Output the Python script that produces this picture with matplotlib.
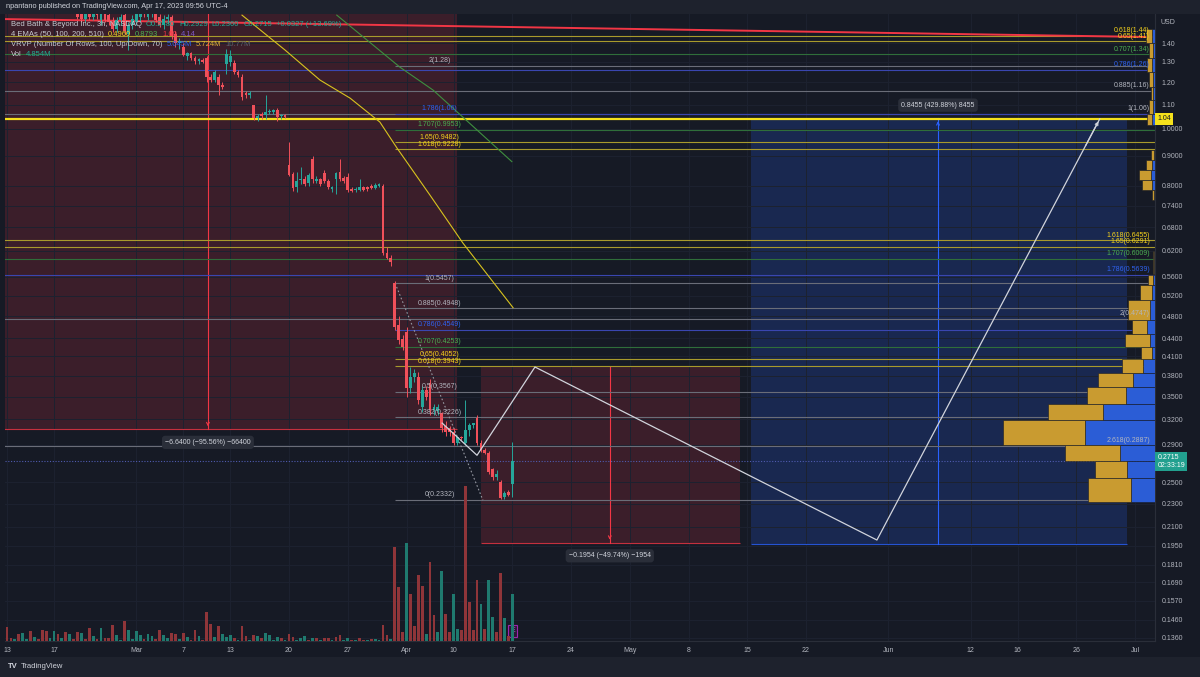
import numpy as np
import matplotlib.pyplot as plt
from matplotlib.transforms import blended_transform_factory

plt.rcParams['font.family'] = ['Liberation Sans', 'DejaVu Sans']

W, H = 1200, 677
FS = 5.0
BG = '#161a25'
PANEL = '#1e222d'
TXT = '#b2b5be'
RED = '#f23645'
TEAL = '#22ab94'
YEL_LINE = '#a89a2c'
YEL_TXT = '#f5d21c'
GRN_LINE = '#2f6e3a'
GRN_TXT = '#4caf50'
BLU_LINE = '#3a46b0'
BLU_TXT = '#2f62f0'
GRY_LINE = '#6a6d78'

# ---- axes scales ----
price_ticks = [1.40, 1.30, 1.20, 1.10, 1.0, 0.90, 0.80, 0.74, 0.68, 0.62, 0.56, 0.52,
               0.48, 0.44, 0.41, 0.38, 0.35, 0.32, 0.29, 0.25, 0.23, 0.21, 0.195,
               0.181, 0.169, 0.157, 0.146, 0.136]
price_tick_labels = ['1.40', '1.30', '1.20', '1.10', '1.0000', '0.9000', '0.8000', '0.7400',
                     '0.6800', '0.6200', '0.5600', '0.5200', '0.4800', '0.4400', '0.4100',
                     '0.3800', '0.3500', '0.3200', '0.2900', '0.2500', '0.2300', '0.2100',
                     '0.1950', '0.1810', '0.1690', '0.1570', '0.1460', '0.1360']
# trading-day index (from Feb 13) of each date label, 3 bars per day (3h chart)
date_tick_days = [0, 4, 11, 15, 19, 24, 29, 34, 38, 43, 48, 53, 58, 63, 68, 75, 82, 86, 91, 96]
date_tick_labels = ['13', '17', 'Mar', '7', '13', '20', '27', 'Apr', '10', '17', '24', 'May',
                    '8', '15', '22', 'Jun', '12', '16', '26', 'Jul']
bars_per_day = 3
x_range = (-0.51, 293.1)
y_range = (0.1342, 1.569)

# ---- candles (bar index starts at 18) ----
candle_start = 18
c_open = [1.60, 1.58, 1.54, 1.58, 1.55, 1.59, 1.53, 1.58, 1.56, 1.52, 1.48, 1.53, 1.56, 1.45,
          1.50, 1.52, 1.55, 1.59, 1.55, 1.57, 1.60, 1.55, 1.50, 1.54, 1.55, 1.45, 1.40, 1.378,
          1.33, 1.345, 1.32, 1.305, 1.31, 1.32, 1.225, 1.21, 1.225, 1.19, 1.29, 1.30, 1.295,
          1.25, 1.225, 1.15, 1.14, 1.098, 1.044, 1.06, 1.056, 1.068, 1.07, 1.077, 1.05, 1.056,
          0.868, 0.837, 0.795, 0.818, 0.822, 0.808, 0.888, 0.815, 0.82, 0.84, 0.815, 0.79,
          0.82, 0.845, 0.825, 0.827, 0.788, 0.786, 0.787, 0.795, 0.792, 0.80, 0.793, 0.80,
          0.80, 0.614, 0.603,
          0.546, 0.463, 0.438, 0.451, 0.362, 0.378, 0.378, 0.336, 0.359, 0.369, 0.332, 0.331,
          0.328, 0.312, 0.31, 0.305, 0.292, 0.299, 0.292, 0.307, 0.313, 0.322, 0.292, 0.284,
          0.281, 0.263, 0.255, 0.25, 0.236, 0.241, 0.248]
c_high = [1.65, 1.62, 1.60, 1.60, 1.62, 1.61, 1.60, 1.60, 1.58, 1.55, 1.55, 1.57, 1.58, 1.52,
          1.56, 1.60, 1.62, 1.61, 1.62, 1.63, 1.62, 1.57, 1.56, 1.57, 1.56, 1.47, 1.43, 1.40,
          1.35, 1.35, 1.33, 1.32, 1.32, 1.33, 1.24, 1.26, 1.24, 1.20, 1.37, 1.36, 1.31,
          1.26, 1.24, 1.16, 1.16, 1.10, 1.06, 1.07, 1.14, 1.08, 1.08, 1.085, 1.06, 1.06,
          0.95, 0.845, 0.845, 0.86, 0.83, 0.84, 0.90, 0.83, 0.825, 0.85, 0.82, 0.80,
          0.845, 0.89, 0.83, 0.84, 0.795, 0.795, 0.82, 0.80, 0.80, 0.805, 0.81, 0.81,
          0.805, 0.63, 0.61,
          0.55, 0.48, 0.445, 0.46, 0.393, 0.39, 0.385, 0.365, 0.365, 0.375, 0.34, 0.34,
          0.33, 0.318, 0.312, 0.31, 0.30, 0.30, 0.345, 0.315, 0.316, 0.325, 0.295, 0.286,
          0.283, 0.265, 0.262, 0.252, 0.242, 0.243, 0.2929]
c_low = [1.54, 1.52, 1.52, 1.53, 1.53, 1.54, 1.50, 1.52, 1.50, 1.46, 1.46, 1.50, 1.45, 1.36,
         1.48, 1.50, 1.52, 1.55, 1.53, 1.55, 1.52, 1.49, 1.48, 1.51, 1.42, 1.38, 1.37, 1.33,
         1.31, 1.31, 1.29, 1.29, 1.295, 1.20, 1.20, 1.20, 1.14, 1.17, 1.24, 1.28, 1.24,
         1.225, 1.12, 1.13, 1.13, 1.035, 1.03, 1.04, 1.04, 1.06, 1.06, 1.03, 1.04, 1.045,
         0.83, 0.785, 0.78, 0.805, 0.80, 0.80, 0.81, 0.81, 0.80, 0.81, 0.79, 0.78,
         0.775, 0.815, 0.81, 0.78, 0.78, 0.78, 0.783, 0.785, 0.785, 0.79, 0.79, 0.795,
         0.61, 0.60, 0.585,
         0.455, 0.43, 0.42, 0.35, 0.355, 0.37, 0.34, 0.33, 0.345, 0.325, 0.325, 0.325,
         0.305, 0.30, 0.30, 0.29, 0.29, 0.295, 0.29, 0.30, 0.31, 0.29, 0.282, 0.279,
         0.258, 0.252, 0.252, 0.234, 0.234, 0.237, 0.236]
c_close = [1.55, 1.54, 1.58, 1.55, 1.59, 1.56, 1.58, 1.53, 1.52, 1.48, 1.53, 1.55, 1.47, 1.50,
           1.54, 1.58, 1.59, 1.57, 1.60, 1.60, 1.53, 1.50, 1.54, 1.55, 1.44, 1.40, 1.41, 1.336,
           1.345, 1.32, 1.305, 1.31, 1.30, 1.225, 1.21, 1.25, 1.187, 1.18, 1.34, 1.33, 1.25,
           1.235, 1.133, 1.14, 1.15, 1.044, 1.05, 1.052, 1.068, 1.072, 1.072, 1.048, 1.055, 1.048,
           0.834, 0.792, 0.815, 0.822, 0.805, 0.834, 0.82, 0.822, 0.806, 0.815, 0.795, 0.795,
           0.84, 0.82, 0.815, 0.787, 0.785, 0.79, 0.795, 0.788, 0.79, 0.793, 0.803, 0.803,
           0.614, 0.603, 0.593,
           0.460, 0.437, 0.425, 0.362, 0.378, 0.384, 0.345, 0.359, 0.349, 0.332, 0.336, 0.336,
           0.31, 0.305, 0.304, 0.292, 0.299, 0.297, 0.307, 0.313, 0.315, 0.292, 0.284, 0.281,
           0.26, 0.255, 0.258, 0.235, 0.24, 0.238, 0.2715]

# ---- volume (millions), bar index 0.. ----
volume = [1.44, 0.31, 0.21, 0.72, 0.82, 0.21, 1.03, 0.41, 0.21, 1.13, 1.03, 0.31, 1.03, 0.72,
          0.31, 0.93, 0.72, 0.21, 0.93, 0.82, 0.21, 1.34, 0.52, 0.21, 1.34, 0.31, 0.31, 1.65,
          0.62, 0.10, 2.06, 1.13, 0.21, 1.03, 0.62, 0.21, 0.72, 0.52, 0.21, 1.13, 0.62, 0.31,
          0.82, 0.72, 0.21, 0.82, 0.41, 0.10, 1.13, 0.52, 0.10, 2.99, 1.75, 0.41, 1.55, 0.72,
          0.41, 0.62, 0.31, 0.10, 1.55, 0.52, 0.10, 0.62, 0.52, 0.31, 0.82, 0.62, 0.10, 0.41,
          0.31, 0.10, 0.72, 0.41, 0.10, 0.31, 0.52, 0.10, 0.31, 0.31, 0.10, 0.31, 0.31, 0.10,
          0.41, 0.62, 0.10, 0.31, 0.10, 0.10, 0.31, 0.10, 0.10, 0.21, 0.21, 0.10, 1.65, 0.62,
          0.21, 9.68, 5.56, 0.93, 10.09, 4.84, 1.55, 6.80, 5.67, 0.72, 8.14, 2.68, 0.93, 7.21,
          2.78, 0.93, 4.84, 1.24, 1.13, 15.97, 4.02, 1.13, 6.28, 3.81, 1.24, 6.28, 2.47, 0.93,
          7.00, 2.37, 0.50, 4.85]
vol_dir = ("rrgrggrgrrrggrgrgrrgrrgrgrrrggrggggrggrrggrrgrgrrgrrrgrgggrgrrgrgrggggrgrrgggrgrgrr"
           "grrggrgrrgrggrrgrrrgrrrrgrrggrrggrrrrrgrgg")

# ---- visible-range volume profile (price rows, millions) ----
vp_lo = [0.2314, 0.2543, 0.2715, 0.2894, 0.3192, 0.3398, 0.3633, 0.3839, 0.4054, 0.4254,
         0.4472, 0.4725, 0.511, 0.542, 0.565, 0.756, 0.787, 0.818, 0.851, 0.885,
         1.015, 1.06, 1.12, 1.18, 1.25, 1.32, 1.40]
vp_hi = [0.2543, 0.2715, 0.2894, 0.3192, 0.3398, 0.3633, 0.3839, 0.4054, 0.4254, 0.4472,
         0.4725, 0.511, 0.542, 0.5637, 0.62, 0.787, 0.818, 0.851, 0.885, 0.92,
         1.06, 1.12, 1.18, 1.25, 1.32, 1.40, 1.48]
vp_up = [7.7, 5.72, 9.9, 14.7, 9.9, 7.0, 6.3, 3.8, 2.0, 4.5, 2.7, 3.9, 2.2, 0.9, 0.3,
         0.4, 1.8, 2.2, 1.1, 0.5, 0.9, 0.7, 0.5, 0.7, 0.9, 0.7, 1.1]
vp_down = [4.3, 5.05, 6.3, 12.6, 9.3, 5.2, 3.9, 2.2, 0.5, 0.9, 1.4, 0.9, 0.5, 0.4, 0.1,
           0.2, 0.5, 0.7, 0.5, 0.2, 0.5, 0.4, 0.3, 0.4, 0.5, 0.4, 0.5]

# ---- fib tools ----
fibA_levels = ['0', '0.382', '0.5', '0.618', '0.65', '0.707', '0.786', '0.885', '1',
               '1.618', '1.65', '1.707', '1.786', '2']
fibA_prices = [0.2332, 0.3226, 0.3567, 0.3943, 0.4052, 0.4253, 0.4549, 0.4948, 0.5457,
               0.9228, 0.9482, 0.9953, 1.06, 1.28]
fibA_text = ['0(0.2332)', '0.382(0.3226)', '0.5(0.3567)', '0.618(0.3943)', '0.65(0.4052)',
             '0.707(0.4253)', '0.786(0.4549)', '0.885(0.4948)', '1(0.5457)', '1.618(0.9228)',
             '1.65(0.9482)', '1.707(0.9953)', '1.786(1.06)', '2(1.28)']
fibA_start, fibA_label_x = 99.1, 110.5
fibB_levels = ['0.618', '0.65', '0.707', '0.786', '0.885', '1', '1.618', '1.65', '1.707',
               '1.786', '2', '2.618']
fibB_prices = [1.44, 1.41, 1.34, 1.26, 1.16, 1.06, 0.6455, 0.6291, 0.6009, 0.5639, 0.4747, 0.2887]
fibB_text = ['0.618(1.44)', '0.65(1.41)', '0.707(1.34)', '0.786(1.26)', '0.885(1.16)', '1(1.06)',
             '1.618(0.6455)', '1.65(0.6291)', '1.707(0.6009)', '1.786(0.5639)', '2(0.4747)',
             '2.618(0.2887)']
fibB_label_x = 291.8
fib_diag_b, fib_diag_p = [99.1, 121.5], [0.5457, 0.2332]

# ---- EMAs ----
ema50_b = [60.0, 71.0, 79.9, 87.6, 95.2, 99.6, 108.0, 116.4, 129.2]
ema50_p = [1.562, 1.362, 1.211, 1.128, 1.027, 0.927, 0.771, 0.639, 0.496]
ema100_b = [84.2, 100.3, 108.8, 128.9]
ema100_p = [1.562, 1.274, 1.164, 0.8793]

# ---- drawings ----
red_trend_b, red_trend_p = [-0.51, 293.1], [1.538, 1.433]
level_104 = 1.04
proj_b = [111.1, 120.0, 134.8, 222.1, 279.0]
proj_p = [0.3154, 0.278, 0.393, 0.1994, 1.04]
box_b0 = [-1.0, 121.0, 190.0]
box_b1 = [114.9, 187.1, 286.0]
box_p_from = [6.948, 0.3928, 0.1967]
box_p_to = [0.308, 0.1974, 1.0422]
box_mid = [51.3, 153.9, 237.7]
box_text = ['\u22126.6400 (\u221295.56%) \u221266400', '\u22120.1954 (\u221249.74%) \u22121954',
            '0.8455 (429.88%) 8455']
last_price = 0.2715


def fib_colors(level):
    if level in ('0.618', '0.65', '1.618', '1.65'):
        return YEL_LINE, YEL_TXT
    if level in ('0.707', '1.707'):
        return GRN_LINE, GRN_TXT
    if level in ('0.786', '1.786'):
        return BLU_LINE, BLU_TXT
    return GRY_LINE, TXT


fig = plt.figure(figsize=(W / 100, H / 100), dpi=100, facecolor=PANEL)
fig.add_artist(plt.Rectangle((0, 20 / H), 1, (H - 34) / H, transform=fig.transFigure,
                             facecolor=BG, edgecolor='none', zorder=-10))
ax = fig.add_axes([5 / W, 36 / H, 1150 / W, 627 / H])
ax.set_facecolor(BG)
ax.set_yscale('log')
ax.set_xlim(*x_range)
ax.set_ylim(*y_range)
ax_v = ax.twinx()
ax_p = ax.twiny()

# ticks / grid
ax.set_yticks(price_ticks, price_tick_labels)
ax.yaxis.set_minor_locator(plt.NullLocator())
ax.yaxis.set_minor_formatter(plt.NullFormatter())
ax.yaxis.tick_right()
ax.set_xticks([d * bars_per_day for d in date_tick_days], date_tick_labels)
ax.tick_params(axis='y', length=0, pad=4.5, labelsize=FS, colors=TXT)
ax.tick_params(axis='x', length=0, pad=4.2, labelsize=FS, colors=TXT)
ax.grid(True, color='#1d2230', lw=0.7)
ax.set_axisbelow(True)
for s in ['top', 'left']:
    ax.spines[s].set_visible(False)
for s in ['right', 'bottom']:
    ax.spines[s].set_color('#2a2e39')

# measurement boxes
box_fill = ['#f23645', '#f23645', '#2962ff']
box_alpha = [0.17, 0.17, 0.2]
for i in range(3):
    lo, hi = sorted([box_p_from[i], box_p_to[i]])
    ax.fill_between([box_b0[i], box_b1[i]], lo, hi, color=box_fill[i], alpha=box_alpha[i],
                    lw=0, zorder=0.5)
    edge = box_p_to[i] if i < 2 else box_p_from[i]
    ax.hlines(edge, box_b0[i], box_b1[i], color=box_fill[i], lw=0.8, alpha=0.8, zorder=1)
    ax.plot([box_mid[i], box_mid[i]], [box_p_from[i], box_p_to[i]], color=box_fill[i],
            lw=0.8, zorder=1)
    ax.annotate('', xy=(box_mid[i], box_p_to[i]), xytext=(0, 6 if i < 2 else -6),
                textcoords='offset points',
                arrowprops=dict(arrowstyle='->', color=box_fill[i], lw=0.8, mutation_scale=5))
    off = -9.5 if i < 2 else 9.5
    ax.annotate(box_text[i], xy=(box_mid[i], box_p_to[i]), xytext=(0, off),
                textcoords='offset points', ha='center', va='center', fontsize=FS,
                color='#d1d4dc', zorder=6,
                bbox=dict(boxstyle='round,pad=0.45', fc='#2a2e39', ec='none'))

# horizontal lines
ax.plot(red_trend_b, red_trend_p, color=RED, lw=1.4, zorder=2)
for lev, p in zip(fibB_levels, fibB_prices):
    lc, tc = fib_colors(lev)
    ax.axhline(p, color=lc, lw=0.8, zorder=1.8)
for lev, p, t in zip(fibA_levels, fibA_prices, fibA_text):
    lc, tc = fib_colors(lev)
    ax.hlines(p, fibA_start, x_range[1], color=lc, lw=0.8, zorder=1.8)
    ax.annotate(t, xy=(fibA_label_x, p), xytext=(0, 1.2), textcoords='offset points',
                ha='center', va='bottom', fontsize=FS, color=tc, zorder=6)
ax.axhline(level_104, color='#f5e11c', lw=1.6, zorder=2)
ax.axhline(last_price, color='#4f5bb0', lw=0.8, ls=(0, (1, 1.5)), zorder=1.8)
ax.plot(fib_diag_b, fib_diag_p, color='#9598a1', lw=0.8, ls=(0, (1.5, 2)), zorder=2)

# EMAs
ax.plot(ema50_b, ema50_p, color='#d8c31e', lw=0.8, zorder=2)
ax.plot(ema100_b, ema100_p, color='#3f8f3f', lw=0.8, zorder=2)

# candles
cb = np.arange(candle_start, candle_start + len(c_open))
o, h, l, c = map(np.array, (c_open, c_high, c_low, c_close))
ccol = np.where(c >= o, '#26a69a', '#f0505a')
ax.vlines(cb, l, h, colors=ccol, lw=0.7, zorder=3)
body_lo = np.minimum(o, c)
body_h = np.maximum(np.abs(c - o), body_lo * 0.006)
ax.bar(cb, body_h, bottom=body_lo, width=0.72, color=ccol, lw=0, zorder=3.2)

# projection path
ax.plot(proj_b, proj_p, color='#d1d4dc', lw=0.9, zorder=4)
ax.annotate('', xy=(proj_b[-1], proj_p[-1]), xytext=(proj_b[-2] + 0.93 * (proj_b[-1] - proj_b[-2]),
            proj_p[-2] * (proj_p[-1] / proj_p[-2]) ** 0.93),
            arrowprops=dict(arrowstyle='->', color='#d1d4dc', lw=0.9, mutation_scale=5))

# volume
vb = np.arange(len(volume))
vcol = ['#1f7a6f' if d == 'g' else '#8f3539' for d in vol_dir[:len(volume)]]
ax_v.bar(vb, volume, width=0.72, color=vcol, lw=0)
ax_v.set_ylim(0, 64.6)
ax_v.axis('off')

# volume profile
ax_p.set_xlim(206.4, 0)
heights = np.subtract(vp_hi, vp_lo)
ax_p.barh(vp_lo, vp_down, height=heights, left=0, align='edge', color='#2b5dd6',
          edgecolor=BG, lw=0.4)
ax_p.barh(vp_lo, vp_up, height=heights, left=vp_down, align='edge', color='#c99b30',
          edgecolor=BG, lw=0.4)
ax_p.axis('off')
for lev, p, t in zip(fibB_levels, fibB_prices, fibB_text):
    lc, tc = fib_colors(lev)
    ax_p.annotate(t, xy=(fibB_label_x, p), xycoords=ax.transData, xytext=(0, 1.2),
                  textcoords='offset points', ha='right', va='bottom', fontsize=FS,
                  color=tc, zorder=6)

# price tags on the axis
yt = blended_transform_factory(ax.transAxes, ax.transData)
ax.text(1.002, level_104, '1.04', transform=yt, ha='left', va='center', fontsize=FS,
        color='#131722', clip_on=False,
        bbox=dict(boxstyle='square,pad=0.35', fc='#f5e11c', ec='none'))
ax.text(1.002, last_price, '0.2715\n02:33:19', transform=yt, ha='left', va='center',
        fontsize=FS, color='white', linespacing=1.1, clip_on=False,
        bbox=dict(boxstyle='square,pad=0.35', fc='#22a08f', ec='none'))
ax.text(1.005, 0.987, 'USD', transform=ax.transAxes, ha='left', va='center', fontsize=FS,
        color=TXT)
xt = blended_transform_factory(ax.transData, ax.transAxes)
ax.text(129, 0.016, 'E', transform=xt, ha='center', va='center', fontsize=FS, color='#c05bd8',
        zorder=7, bbox=dict(boxstyle='square,pad=0.3', fc='#2a1736', ec='#9c27b0', lw=0.8))

# header and legend texts
renderer = fig.canvas.get_renderer()


def rich(x_px, y_px, parts, gap=4, size=FS, weight='normal'):
    x = x_px
    for s, col in parts:
        t = fig.text(x / W, 1 - y_px / H, s, color=col, fontsize=size, ha='left', va='center',
                     fontweight=weight)
        x += t.get_window_extent(renderer).width + gap


rich(6, 7, [('npantano published on TradingView.com, Apr 17, 2023 09:56 UTC-4', '#d1d4dc')],
     size=5.3)
rich(11, 24, [('Bed Bath & Beyond Inc., 3h, NASDAQ', '#c7cad1'), ('O0.2480', TEAL),
              ('H0.2929', TEAL), ('L0.2360', TEAL), ('C0.2715', TEAL),
              ('+0.0327 (+13.69%)', TEAL)], size=5.5)
rich(11, 35, [('4 EMAs (50, 100, 200, 510)', '#c7cad1'), ('0.4960', '#f0d020'),
              ('0.8793', '#4caf50'), ('1.60', RED), ('4.14', '#7e57c2')], size=5.5)
rich(11, 45, [('VRVP (Number Of Rows, 100, Up/Down, 70)', '#c7cad1'), ('5.045M', '#2f62f0'),
              ('5.724M', '#e0b13a'), ('10.77M', '#5d606b')], size=5.5)
rich(11, 55, [('Vol', '#c7cad1'), ('4.854M', TEAL)], size=5.5)
rich(8, 667, [('TV', '#d1d4dc')], gap=2, size=5.5, weight='bold')
rich(21, 667, [('TradingView', '#d1d4dc')], size=5.5)

fig.savefig('out.png', dpi=100, facecolor=fig.get_facecolor())
